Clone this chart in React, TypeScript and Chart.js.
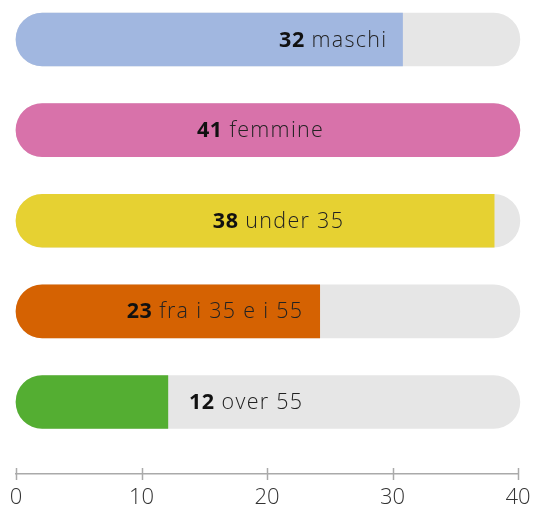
import React, { useEffect, useRef } from "react";
import { Chart, registerables } from "chart.js";

Chart.register(...registerables);

const categories = ["maschi", "femmine", "under 35", "fra i 35 e i 55", "over 55"];
const labelNumbers = [32, 41, 38, 23, 12];
const barValues = [30.8, 40.15, 38.1, 24.2, 12.1];
const trackValues = [40.15, 40.15, 40.15, 40.15, 40.15];
const barColors = ["#a1b7e0", "#d872aa", "#e6d132", "#d56202", "#54ae32"];
const xTicks = [0, 10, 20, 30, 40];

// label right edges (in axis units), styling only
const labelRight = [29.5, 24.45, 26.05, 22.8, 22.8];

const FONT = "'Open Sans', Lato, sans-serif";
const R = 26.5;
const FS = 21.5;
const LS_LIGHT = 1.3;
const LS_BOLD = 0.5;

const labelPlugin = {
  id: "barLabels",
  afterDatasetsDraw(chart: any) {
    const { ctx } = chart;
    const xs = chart.scales.x;
    const ys = chart.scales.y;
    ctx.save();
    ctx.textBaseline = "middle";
    ctx.textAlign = "left";
    categories.forEach((cat, i) => {
      const right = xs.getPixelForValue(labelRight[i]);
      const y = ys.getPixelForValue(i) + 1;
      const numTxt = String(labelNumbers[i]);
      const rest = " " + cat;
      ctx.font = `700 ${FS}px ${FONT}`;
      (ctx as any).letterSpacing = `${LS_BOLD}px`;
      const wNum = ctx.measureText(numTxt).width;
      ctx.font = `300 ${FS}px ${FONT}`;
      (ctx as any).letterSpacing = `${LS_LIGHT}px`;
      const wRest = ctx.measureText(rest).width - LS_LIGHT;
      const start = right - wNum - wRest;
      ctx.fillStyle = "#111";
      ctx.font = `700 ${FS}px ${FONT}`;
      (ctx as any).letterSpacing = `${LS_BOLD}px`;
      ctx.fillText(numTxt, start, y);
      ctx.fillStyle = "#222";
      ctx.font = `300 ${FS}px ${FONT}`;
      (ctx as any).letterSpacing = `${LS_LIGHT}px`;
      ctx.fillText(rest, start + wNum, y);
    });
    (ctx as any).letterSpacing = "0px";
    const yAxis = chart.chartArea.bottom;
    ctx.strokeStyle = "#aaaaaa";
    ctx.lineWidth = 1.5;
    xTicks.forEach((t) => {
      const x = Math.round(xs.getPixelForValue(t)) + 0.5;
      ctx.beginPath();
      ctx.moveTo(x, yAxis - 6);
      ctx.lineTo(x, yAxis + 6);
      ctx.stroke();
    });
    ctx.restore();
  },
};

export default function App() {
  const ref = useRef<HTMLCanvasElement | null>(null);
  useEffect(() => {
    if (!ref.current) return;
    const chart = new Chart(ref.current, {
      type: "bar",
      data: {
        datasets: [
          {
            data: barValues.map((v, i) => ({ x: v, y: i })),
            backgroundColor: barColors,
            barThickness: 53,
            grouped: false,
            order: 1,
            clip: false,
            borderSkipped: false,
            borderRadius: (c: any) =>
              c.dataIndex === 1
                ? R
                : { topLeft: R, bottomLeft: R, topRight: 0, bottomRight: 0 },
          } as any,
          {
            data: trackValues.map((v, i) => ({ x: v, y: i })),
            backgroundColor: "#e6e6e6",
            barThickness: 53,
            grouped: false,
            order: 2,
            clip: false,
            borderSkipped: false,
            borderRadius: R,
          } as any,
        ],
      },
      options: {
        indexAxis: "y",
        animation: false,
        responsive: false,
        maintainAspectRatio: false,
        layout: { padding: { left: 16, right: 16, top: 8, bottom: 0 } },
        plugins: { legend: { display: false }, tooltip: { enabled: false } },
        scales: {
          x: {
            type: "linear",
            min: 0,
            max: 40,
            afterBuildTicks: (s: any) => {
              s.ticks = xTicks.map((v) => ({ value: v }));
            },
            afterFit: (s: any) => {
              s.paddingLeft = 0;
              s.paddingRight = 0;
              s.height = 34;
            },
            grid: { display: false, drawTicks: false },
            border: { display: true, color: "#aaaaaa", width: 1.5 },
            ticks: {
              padding: 12,
              color: "#333",
              font: { family: FONT, size: 22, weight: "300", lineHeight: 1.1 },
              maxRotation: 0,
            },
          },
          y: {
            type: "linear",
            display: false,
            reverse: true,
            offset: false,
            min: -0.348,
            max: 4.795,
          },
        },
      } as any,
      plugins: [labelPlugin],
    });
    return () => chart.destroy();
  }, []);
  return (
    <div style={{ position: "absolute", left: 0, top: 0, width: 534, height: 508 }}>
      <canvas ref={ref} width={534} height={508} style={{ width: 534, height: 508 }} />
    </div>
  );
}
